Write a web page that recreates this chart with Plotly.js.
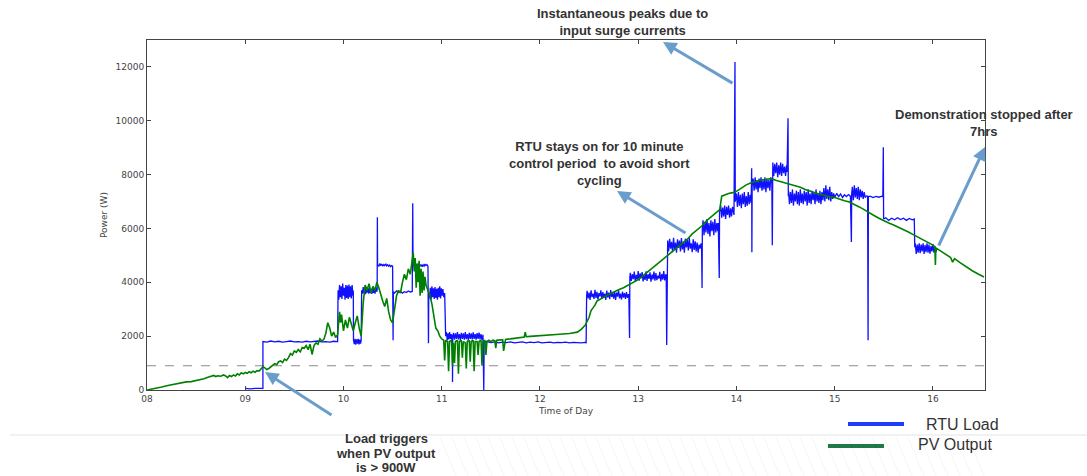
<!DOCTYPE html>
<html>
<head>
<meta charset="utf-8">
<script src="https://cdn.plot.ly/plotly-3.0.1.min.js"></script>
<style>
  html, body { margin: 0; padding: 0; background: #ffffff; }
  #chart { width: 1087px; height: 476px; }
</style>
</head>
<body>
<div id="chart"></div>
<script>
// ---- axis ticks ----
const hourTicks = [8, 9, 10, 11, 12, 13, 14, 15, 16];
const hourLabels = ['08', '09', '10', '11', '12', '13', '14', '15', '16'];
const powerTicks = [0, 2000, 4000, 6000, 8000, 10000, 12000];
const powerLabels = ['0', '2000', '4000', '6000', '8000', '10000', '12000'];
const triggerWatts = 900;

// ---- RTU load (W) by time of day (decimal hours) ----
const loadHours = [
  9.00, 9.05, 9.10, 9.15, 9.18,
  9.18, 9.22, 9.26, 9.30, 9.34, 9.38, 9.42, 9.46, 9.50, 9.54, 9.58, 9.62, 9.66, 9.70, 9.74, 9.78, 9.82, 9.86, 9.90, 9.94,
  9.945, 9.952, 9.960, 9.968, 9.976, 9.984, 9.992, 10.000, 10.008, 10.016, 10.024, 10.032, 10.040, 10.048, 10.056, 10.064, 10.072, 10.080, 10.088, 10.096, 10.100,
  10.102, 10.110, 10.118, 10.126, 10.134, 10.142, 10.150, 10.158, 10.166, 10.174, 10.180,
  10.185, 10.193, 10.201, 10.209, 10.217, 10.225, 10.233, 10.241, 10.249, 10.257, 10.265, 10.273, 10.281, 10.289, 10.297, 10.305, 10.313, 10.321, 10.329, 10.337, 10.343,
  10.345, 10.347, 10.36, 10.37, 10.38, 10.39, 10.40, 10.41, 10.42, 10.43, 10.44, 10.45, 10.46, 10.47, 10.48, 10.49, 10.50,
  10.505, 10.508, 10.52, 10.54, 10.56, 10.58, 10.60, 10.62, 10.64, 10.66, 10.68, 10.70,
  10.705, 10.708, 10.72, 10.73, 10.74, 10.75, 10.76, 10.77, 10.78, 10.79, 10.80, 10.81, 10.82, 10.83, 10.84, 10.85, 10.86,
  10.865, 10.868, 10.876, 10.884, 10.892, 10.900, 10.908, 10.916, 10.924, 10.932, 10.940, 10.948, 10.956, 10.964, 10.972, 10.980, 10.988, 10.996, 11.004, 11.012, 11.020, 11.030,
  11.040, 11.048, 11.056, 11.064, 11.072, 11.080, 11.088, 11.096, 11.104, 11.108, 11.110, 11.112, 11.120, 11.130, 11.140, 11.150, 11.160, 11.170, 11.180, 11.190,
  11.200, 11.210, 11.220, 11.230, 11.240, 11.250, 11.260, 11.270, 11.280, 11.290, 11.300, 11.310, 11.320, 11.330, 11.340, 11.350, 11.360, 11.370, 11.380, 11.390,
  11.400, 11.410, 11.420,
  11.428, 11.432, 11.46, 11.50, 11.54, 11.58, 11.62, 11.66, 11.70, 11.74, 11.78, 11.82, 11.86, 11.90, 11.94, 11.98, 12.02, 12.06, 12.10, 12.14, 12.18, 12.22, 12.26, 12.30, 12.34, 12.38, 12.42, 12.46, 12.47,
  12.475, 12.48, 12.49, 12.50, 12.51, 12.52, 12.53, 12.54, 12.55, 12.56, 12.57, 12.58, 12.59, 12.60, 12.61, 12.62, 12.63, 12.64, 12.65, 12.66, 12.67, 12.68,
  12.69, 12.70, 12.71, 12.72, 12.73, 12.74, 12.75, 12.76, 12.77, 12.78, 12.79, 12.80, 12.81, 12.82, 12.83, 12.84, 12.85, 12.86, 12.87, 12.88, 12.89, 12.90, 12.905,
  12.912, 12.915, 12.92, 12.93, 12.94, 12.95, 12.96, 12.97, 12.98, 12.99, 13.00, 13.01, 13.02, 13.03, 13.04, 13.05, 13.06, 13.07, 13.08, 13.09,
  13.10, 13.11, 13.12, 13.13, 13.14, 13.15, 13.16, 13.17, 13.18, 13.19, 13.20, 13.21, 13.22, 13.23, 13.24, 13.25, 13.26, 13.27, 13.28, 13.285,
  13.29, 13.293, 13.30, 13.31, 13.32, 13.33, 13.34, 13.35, 13.36, 13.37, 13.38, 13.39, 13.40, 13.41, 13.42, 13.43, 13.44, 13.45, 13.46,
  13.47, 13.48, 13.49, 13.50, 13.51, 13.52, 13.53, 13.54, 13.55, 13.56, 13.57, 13.58, 13.59, 13.60, 13.61, 13.62, 13.63, 13.64, 13.645,
  13.65, 13.653, 13.66, 13.67, 13.68, 13.69, 13.70, 13.71, 13.72, 13.73, 13.74, 13.75, 13.76, 13.77, 13.78, 13.79, 13.80, 13.81, 13.815,
  13.825, 13.828, 13.84, 13.85, 13.86, 13.87, 13.88, 13.89, 13.90, 13.91, 13.92, 13.93, 13.94, 13.95, 13.96, 13.97, 13.975,
  13.985, 13.988, 14.00, 14.01, 14.02, 14.03, 14.04, 14.05, 14.06, 14.07, 14.08, 14.09, 14.10, 14.11, 14.12, 14.13, 14.14, 14.15,
  14.155, 14.157, 14.16, 14.17, 14.18, 14.19, 14.20, 14.21, 14.22, 14.23, 14.24, 14.25, 14.26, 14.27, 14.28, 14.29, 14.30, 14.31, 14.32, 14.33, 14.34, 14.35, 14.36,
  14.365, 14.368, 14.37, 14.38, 14.39, 14.40, 14.41, 14.42, 14.43, 14.44, 14.45, 14.46, 14.47, 14.48, 14.49, 14.50, 14.51, 14.515,
  14.525, 14.528, 14.53, 14.54, 14.55, 14.56, 14.57, 14.58, 14.59, 14.60, 14.61, 14.62, 14.63, 14.64, 14.65, 14.66, 14.67, 14.68, 14.69, 14.70, 14.71, 14.72, 14.73, 14.74,
  14.75, 14.76, 14.77, 14.78, 14.79, 14.80, 14.81, 14.82, 14.83, 14.84, 14.85, 14.86, 14.87, 14.88, 14.89, 14.90, 14.91, 14.92, 14.93, 14.94, 14.95, 14.96, 14.97, 14.98, 14.99,
  15.00, 15.02, 15.04, 15.06, 15.08, 15.10, 15.12, 15.14, 15.16,
  15.17, 15.173, 15.18, 15.19, 15.20, 15.21, 15.22, 15.23, 15.24, 15.25, 15.26, 15.27, 15.28, 15.29, 15.30, 15.31, 15.32, 15.335, 15.34, 15.343,
  15.36, 15.39, 15.42, 15.45, 15.48, 15.49, 15.495, 15.498,
  15.52, 15.55, 15.58, 15.61, 15.64, 15.67, 15.70, 15.73, 15.76, 15.79, 15.81,
  15.815, 15.82, 15.83, 15.84, 15.85, 15.86, 15.87, 15.88, 15.89, 15.90, 15.91, 15.92, 15.93, 15.94, 15.95, 15.96, 15.97, 15.98, 15.99, 16.00, 16.01, 16.02, 16.03, 16.04
];
const loadWatts = [
  60, 40, 60, 50, 60,
  1800, 1780, 1820, 1790, 1810, 1780, 1800, 1820, 1790, 1800, 1780, 1810, 1790, 1800, 1820, 1790, 1800, 1780, 1810, 1800,
  3700, 3350, 3900, 3450, 3850, 3380, 3950, 3500, 3800, 3350, 3900, 3420, 3880, 3380, 3920, 3450, 3850, 3400, 3900, 3500, 3700,
  1850, 1700, 1900, 1680, 1880, 1720, 1900, 1690, 1870, 1720, 1850,
  3700, 3580, 3820, 3600, 3790, 3560, 3830, 3620, 3780, 3580, 3810, 3600, 3760, 3570, 3820, 3610, 3790, 3580, 3800, 3650, 3720,
  6420, 4650, 4600, 4700, 4620, 4680, 4600, 4660, 4620, 4690, 4610, 4650, 4600, 4640, 4580, 4620, 4600,
  1850, 3650, 3600, 3680, 3620, 3660, 3600, 3650, 3620, 3680, 3640, 3660,
  6940, 4650, 4600, 4700, 4580, 4680, 4620, 4700, 4600, 4660, 4580, 4650, 4600, 4680, 4620, 4650, 4600,
  1740, 3600, 3400, 3800, 3350, 3850, 3450, 3780, 3380, 3820, 3420, 3760, 3350, 3800, 3450, 3850, 3400, 3780, 3500, 3750, 3450, 3600,
  2000, 2150, 1850, 2100, 1880, 2150, 1900, 2080, 1860, 2050, 300, 1950, 2120, 1870, 2100, 1900, 2150, 1880, 2080, 1860,
  2120, 1900, 2100, 1870, 2150, 1890, 2080, 1860, 2120, 1900, 2100, 1880, 2140, 1900, 2080, 1870, 2110, 1900, 2130, 1880,
  2080, 1860, 2050,
  0, 1780, 1800, 1760, 1790, 1750, 1780, 1760, 1790, 1750, 1770, 1790, 1750, 1780, 1760, 1790, 1750, 1770, 1780, 1750, 1770, 1760, 1780, 1750, 1770, 1760, 1750, 1770, 1760,
  3500, 3680, 3400, 3620, 3350, 3700, 3450, 3580, 3380, 3720, 3420, 3650, 3360, 3600, 3480, 3700, 3380, 3640, 3420, 3580, 3350, 3690,
  3440, 3620, 3370, 3710, 3460, 3600, 3390, 3660, 3350, 3620, 3470, 3700, 3400, 3580, 3360, 3650, 3430, 3600, 3380, 3640, 3420, 3560, 3450,
  1930, 4200, 4350, 4050, 4300, 4120, 4400, 4020, 4280, 4100, 4420, 4060, 4330, 4150, 4380, 4030, 4260, 4090, 4410, 4050,
  4300, 4130, 4370, 4020, 4290, 4110, 4400, 4060, 4340, 4080, 4250, 4140, 4390, 4030, 4310, 4100, 4420, 4070, 4300, 4250,
  1670, 5300, 5550, 5150, 5620, 5250, 5500, 5120, 5650, 5200, 5480, 5100, 5600, 5280, 5550, 5150, 5640, 5220, 5500,
  5100, 5620, 5300, 5580, 5180, 5650, 5250, 5450, 5120, 5600, 5200, 5520, 5150, 5480, 5100, 5400, 5250, 5450, 5300,
  3790, 6000, 6300, 5750, 6250, 5850, 6350, 5800, 6200, 5700, 6300, 5900, 6250, 5750, 6350, 5850, 6200, 5900, 6200,
  4160, 6600, 6850, 6400, 6780, 6450, 6850, 6350, 6800, 6500, 6850, 6400, 6750, 6450, 6800, 6550, 6500,
  12180, 7000, 7300, 6800, 7350, 6850, 7250, 6750, 7300, 6900, 7350, 6800, 7200, 6850, 7350, 6900, 7250, 6950,
  8240, 5120, 7600, 7850, 7400, 7900, 7450, 7800, 7350, 7850, 7500, 7900, 7400, 7800, 7450, 7900, 7350, 7850, 7500, 7800, 7400, 7900, 7700,
  5380, 8200, 8450, 7950, 8400, 8050, 8450, 7900, 8350, 8000, 8450, 7950, 8400, 8050, 8300, 7950, 8350, 8100,
  10090, 7200, 7400, 6900, 7350, 6950, 7450, 6850, 7300, 7000, 7400, 6900, 7350, 6850, 7450, 6950, 7300, 6900, 7400, 7000, 7350, 6850, 7450, 6950,
  7300, 6900, 7400, 7050, 7350, 6900, 7450, 7000, 7300, 6950, 7400, 6900, 7350, 7050, 7500, 7000, 7600, 7100, 7450, 7050, 7550, 7000, 7350, 7100, 7300,
  7150, 7300, 7180, 7280, 7150, 7250, 7180, 7260, 7200,
  5500, 7300, 7550, 7050, 7600, 7150, 7500, 7100, 7550, 7050, 7450, 7150, 7400, 7100, 7350, 7150, 7200, 7200, 1850, 7180,
  7200, 7150, 7190, 7160, 7200, 7180, 9020, 6350,
  6400, 6300, 6380, 6320, 6400, 6330, 6380, 6300, 6370, 6320, 6350,
  5300, 5450, 5050, 5400, 5100, 5450, 5080, 5400, 5150, 5450, 5050, 5380, 5120, 5450, 5100, 5400, 5060, 5350, 5150, 5420, 5100, 5350, 5120, 5250
];

// ---- PV output (W) by time of day (decimal hours) ----
const pvHours = [
  8.00, 8.05, 8.10, 8.15, 8.20, 8.25, 8.30, 8.35, 8.40, 8.45, 8.50, 8.55, 8.58, 8.62, 8.65, 8.68, 8.70, 8.72, 8.75, 8.78,
  8.80, 8.82, 8.84, 8.86, 8.88, 8.90, 8.92, 8.94, 8.96, 8.98, 9.00, 9.02, 9.04, 9.06, 9.08, 9.10, 9.12, 9.14, 9.16, 9.18,
  9.20, 9.22, 9.24, 9.26, 9.28, 9.30, 9.32, 9.34, 9.36, 9.38, 9.40, 9.42, 9.44, 9.46, 9.48, 9.50, 9.52, 9.54, 9.56, 9.58,
  9.60, 9.62, 9.64, 9.66, 9.68, 9.70, 9.72, 9.74, 9.76, 9.78, 9.80, 9.82, 9.84, 9.86, 9.88, 9.90, 9.92, 9.94, 9.96, 9.97,
  9.98, 10.00, 10.02, 10.04, 10.06, 10.08, 10.10, 10.12, 10.14, 10.16, 10.18, 10.20, 10.22, 10.24, 10.26, 10.28, 10.30, 10.32, 10.34, 10.36,
  10.38, 10.40, 10.42, 10.44, 10.46, 10.48, 10.50, 10.52, 10.54, 10.56, 10.58, 10.60, 10.62, 10.64, 10.66, 10.68, 10.70, 10.71, 10.72, 10.73,
  10.74, 10.75, 10.76, 10.77, 10.78, 10.79, 10.80, 10.81, 10.82, 10.83, 10.84, 10.86, 10.88, 10.90, 10.92, 10.94, 10.96, 10.98, 11.00, 11.02,
  11.03, 11.04, 11.06, 11.07, 11.08, 11.10, 11.11, 11.12, 11.13, 11.14, 11.16, 11.17, 11.18, 11.20, 11.21, 11.22, 11.24, 11.25, 11.26, 11.28,
  11.29, 11.30, 11.32, 11.33, 11.34, 11.36, 11.37, 11.38, 11.40, 11.41, 11.42, 11.44, 11.45, 11.46, 11.48, 11.50, 11.52, 11.54, 11.55, 11.56,
  11.60, 11.62, 11.63, 11.65, 11.70, 11.75, 11.80, 11.84, 11.85, 11.86, 11.90, 12.00, 12.10, 12.20, 12.30, 12.38, 12.42, 12.46, 12.50, 12.52,
  12.54, 12.56, 12.58, 12.60, 12.65, 12.70, 12.75, 12.80, 12.85, 12.90, 12.95, 13.00, 13.05, 13.10, 13.15, 13.20, 13.25, 13.30, 13.35, 13.40,
  13.45, 13.50, 13.55, 13.60, 13.65, 13.70, 13.75, 13.80, 13.83, 13.85, 13.88, 13.92, 13.96, 14.00, 14.05, 14.10, 14.15, 14.20, 14.25, 14.30,
  14.35, 14.40, 14.45, 14.50, 14.55, 14.60, 14.65, 14.70, 14.75, 14.80, 14.85, 14.90, 14.95, 15.00, 15.05, 15.10, 15.15, 15.20, 15.25, 15.30,
  15.35, 15.40, 15.45, 15.50, 15.55, 15.60, 15.65, 15.70, 15.75, 15.80, 15.85, 15.90, 15.95, 16.00, 16.02, 16.025, 16.03, 16.08, 16.13, 16.18,
  16.20, 16.22, 16.28, 16.34, 16.40, 16.46, 16.52
];
const pvWatts = [
  0, 30, 70, 110, 160, 200, 240, 260, 300, 310, 350, 380, 420, 470, 520, 540, 500, 530, 510, 560,
  520, 460, 540, 500, 560, 520, 600, 560, 640, 600, 650, 620, 680, 640, 700, 660, 720, 700, 780, 860,
  820, 760, 800, 860, 900, 980, 940, 1050, 1080, 1020, 1150, 1100, 1200, 1350, 1300, 1450, 1400, 1500, 1420, 1580,
  1550, 1650, 1500, 1700, 1320, 1650, 1750, 1700, 1900, 1820, 1880, 2100, 2500, 2300, 2000, 2150, 1950, 2050, 2900, 2500,
  2800, 2200, 2600, 2300, 2700, 2450, 2200, 2500, 2750, 2300, 2000, 3200, 3900, 3700, 3950, 3600, 3850, 3700, 4000, 3800,
  3500, 3300, 3100, 3400, 2900, 2600, 2500, 3100, 3500, 3700, 3600, 4000, 4300, 4100, 4500, 4300, 4800, 5100, 4400, 4900,
  3800, 4700, 4000, 4800, 3500, 4500, 3600, 4400, 3700, 4200, 3900, 3700, 3500, 3200, 2700, 2300, 2200, 2000, 1900, 1850,
  1100, 1850, 1800, 700, 1800, 1850, 900, 1750, 1000, 1800, 1850, 600, 1800, 1850, 1200, 1800, 1750, 800, 1800, 1850,
  1050, 1800, 1850, 700, 1800, 1800, 1300, 1800, 1850, 900, 1800, 1850, 1300, 1800, 1850, 1800, 1850, 1830, 1550, 1850,
  1860, 1870, 1450, 1880, 1900, 1920, 1940, 1970, 2150, 1980, 1990, 2010, 2040, 2070, 2100, 2150, 2250, 2400, 2700, 2950,
  3050, 3150, 3300, 3350, 3450, 3550, 3650, 3720, 3800, 3900, 3970, 4100, 4250, 4400, 4550, 4700, 4850, 4980, 5120, 5280,
  5450, 5600, 5800, 5950, 6100, 6300, 6450, 6600, 6700, 7200, 7250, 7300, 7330, 7380, 7500, 7620, 7700, 7760, 7800, 7820,
  7850, 7790, 7740, 7680, 7630, 7580, 7530, 7450, 7380, 7330, 7270, 7220, 7180, 7150, 7080, 7030, 6980, 6900, 6800, 6700,
  6580, 6480, 6380, 6280, 6200, 6130, 6050, 5950, 5870, 5770, 5680, 5580, 5480, 5380, 5300, 4640, 5280, 5150, 5020, 4920,
  4750, 4880, 4720, 4570, 4430, 4310, 4200
];

// ---- page geometry: plot box in pixels ----
const FIG_W = 1087, FIG_H = 476;
const BOX_L = 147, BOX_R = 985, BOX_T = 40, BOX_B = 390;
const toPaperX = px => (px - BOX_L) / (BOX_R - BOX_L);
const toPaperY = py => (BOX_B - py) / (BOX_B - BOX_T);

const inkGrey = '#444444';
const noteFont = { family: 'Liberation Sans, Arial, sans-serif', size: 13, color: '#333333', weight: 'bold' };
const arrowBlue = '#6b9dcc';

const traces = [
  {
    x: loadHours, y: loadWatts, type: 'scatter', mode: 'lines', name: 'RTU Load',
    line: { color: '#1010ff', width: 1.3 }, hoverinfo: 'skip'
  },
  {
    x: pvHours, y: pvWatts, type: 'scatter', mode: 'lines', name: 'PV Output',
    line: { color: '#008000', width: 1.6 }, hoverinfo: 'skip'
  }
];

const shapes = [
  // 900 W trigger threshold
  { type: 'line', layer: 'below', xref: 'paper', x0: 0, x1: 1, yref: 'y', y0: triggerWatts, y1: triggerWatts,
    line: { color: '#8a8a8a', width: 1.2, dash: 'dash' } },
  // slide rule under the chart
  { type: 'line', xref: 'paper', yref: 'paper', x0: toPaperX(10), x1: toPaperX(1087), y0: toPaperY(435), y1: toPaperY(435),
    line: { color: '#e3e3e3', width: 1 } },
  // legend swatches
  { type: 'line', xref: 'paper', yref: 'paper', x0: toPaperX(848), x1: toPaperX(904), y0: toPaperY(424), y1: toPaperY(424),
    line: { color: '#1e3cff', width: 4 } },
  { type: 'line', xref: 'paper', yref: 'paper', x0: toPaperX(828), x1: toPaperX(884), y0: toPaperY(446), y1: toPaperY(446),
    line: { color: '#1f7a48', width: 4 } }
];
// faint template hatching along the bottom of the slide
for (let hx = 440; hx <= 975; hx += 12) {
  shapes.push({ type: 'line', xref: 'paper', yref: 'paper',
    x0: toPaperX(hx), x1: toPaperX(hx + 16), y0: toPaperY(437), y1: toPaperY(476),
    line: { color: 'rgba(0,0,0,0.045)', width: 1 } });
}

function note(text, cx, cy) {
  return { text: text, xref: 'paper', yref: 'paper', x: toPaperX(cx), y: toPaperY(cy),
    xanchor: 'center', yanchor: 'middle', showarrow: false, align: 'center', font: noteFont };
}
function pointer(headX, headY, tailX, tailY) {
  return { text: '', xref: 'paper', yref: 'paper', x: toPaperX(headX), y: toPaperY(headY),
    axref: 'pixel', ayref: 'pixel', ax: tailX - headX, ay: tailY - headY,
    showarrow: true, arrowhead: 2, arrowsize: 0.9, arrowwidth: 3, arrowcolor: arrowBlue, standoff: 0 };
}

const annotations = [
  note('Instantaneous peaks due to<br>input surge currents', 622, 22),
  pointer(663, 42, 734, 84),
  note('RTU stays on for 10 minute<br>control period  to avoid short<br>cycling', 599, 163),
  pointer(617, 191, 687, 234),
  note('Demonstration stopped after<br>7hrs', 984, 123),
  pointer(985, 147, 938, 247),
  note('Load triggers', 386, 438),
  note('when PV output', 386, 453),
  note('is &gt; 900W', 386, 467),
  pointer(265, 372, 333, 416),
  { text: 'RTU Load', xref: 'paper', yref: 'paper', x: toPaperX(924), y: toPaperY(424), xanchor: 'left', yanchor: 'middle',
    showarrow: false, font: { family: 'Liberation Sans, Arial, sans-serif', size: 16, color: '#333333' } },
  { text: 'PV Output', xref: 'paper', yref: 'paper', x: toPaperX(916), y: toPaperY(444), xanchor: 'left', yanchor: 'middle',
    showarrow: false, font: { family: 'Liberation Sans, Arial, sans-serif', size: 16, color: '#333333' } }
];

const axisCommon = {
  ticks: 'inside', ticklen: 4, tickwidth: 1, tickcolor: inkGrey,
  showline: true, linecolor: inkGrey, linewidth: 1, mirror: 'ticks',
  showgrid: false, zeroline: false, automargin: false,
  tickfont: { family: 'DejaVu Sans, sans-serif', size: 9, color: inkGrey }
};

const layout = {
  width: FIG_W, height: FIG_H,
  margin: { l: BOX_L, r: FIG_W - BOX_R, t: BOX_T, b: FIG_H - BOX_B, pad: 0 },
  paper_bgcolor: '#ffffff', plot_bgcolor: '#ffffff',
  showlegend: false,
  font: { family: 'DejaVu Sans, sans-serif', size: 9, color: inkGrey },
  xaxis: Object.assign({}, axisCommon, {
    range: [8, 16.53], tickmode: 'array', tickvals: hourTicks, ticktext: hourLabels,
    title: { text: 'Time of Day', font: { family: 'DejaVu Sans, sans-serif', size: 9, color: inkGrey }, standoff: 4 }
  }),
  yaxis: Object.assign({}, axisCommon, {
    range: [0, 13000], tickmode: 'array', tickvals: powerTicks, ticktext: powerLabels,
    title: { text: 'Power (W)', font: { family: 'DejaVu Sans, sans-serif', size: 9, color: inkGrey }, standoff: 6 }
  }),
  shapes: shapes,
  annotations: annotations
};

Plotly.newPlot('chart', traces, layout, { displayModeBar: false, staticPlot: true });
</script>
</body>
</html>
